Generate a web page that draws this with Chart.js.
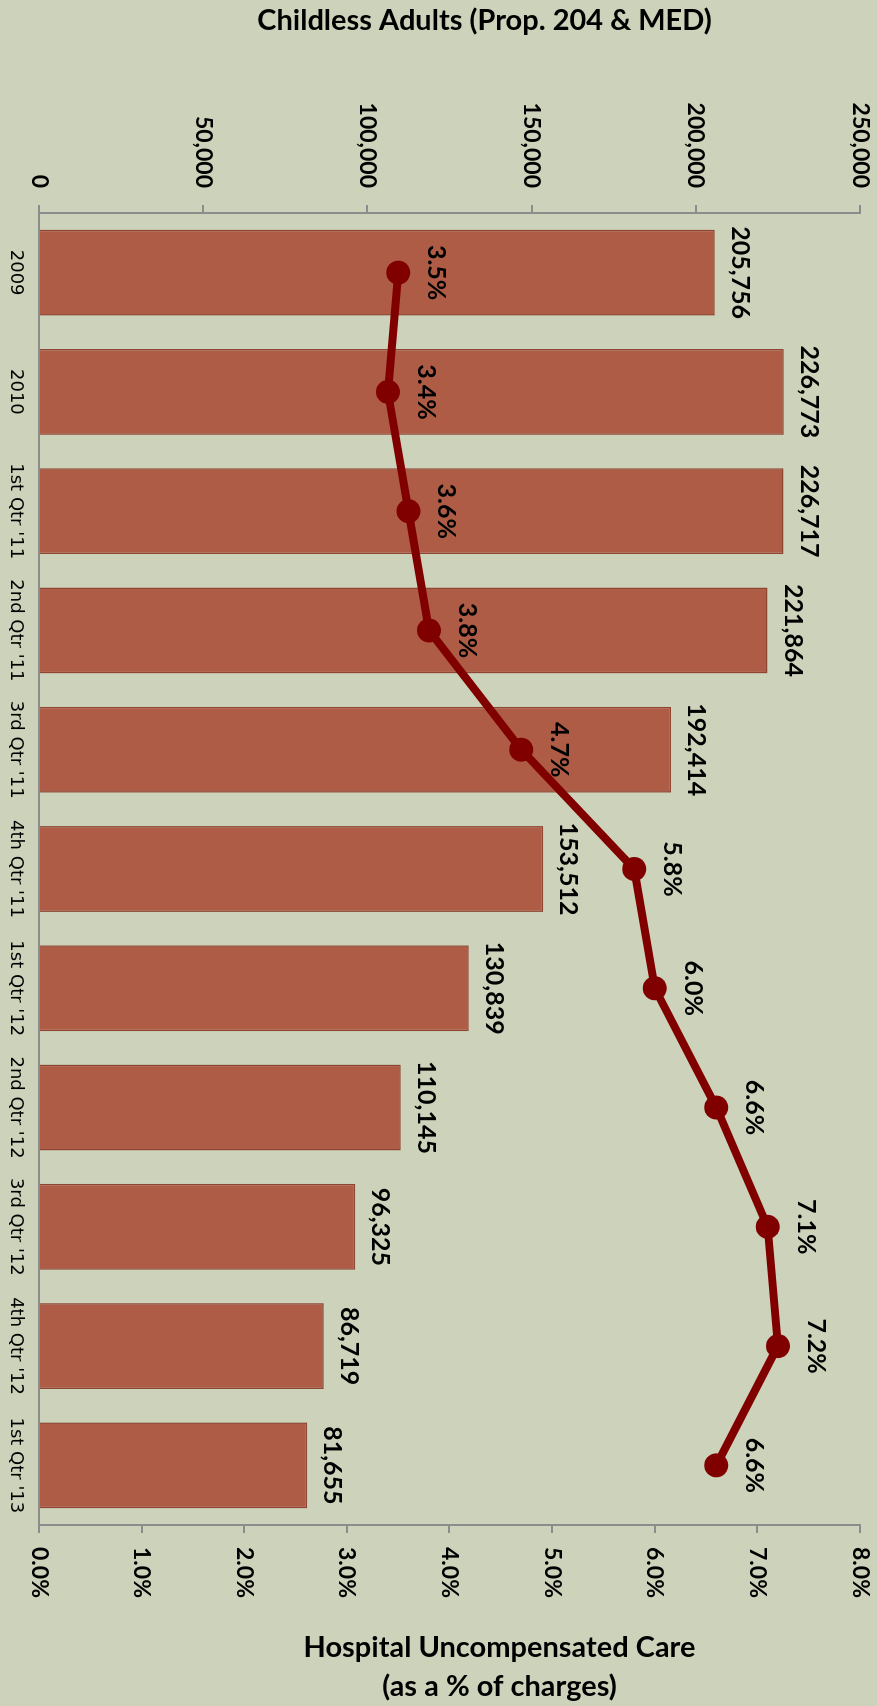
<!DOCTYPE html>
<html lang="en">
<head>
    <meta charset="UTF-8">
    <title>Childless Adults (Prop. 204 & MED)</title>
    <script src="https://cdn.jsdelivr.net/npm/chart.js"></script>
    <style>
        html, body {
            margin: 0;
            padding: 0;
            background: #CDD2BA;
        }

        /* the chart is drawn as a column chart and turned a quarter clockwise */
        .chart-frame {
            position: relative;
            width: 877px;
            height: 1706px;
            overflow: hidden;
            background: #CDD2BA;
        }

        .chart-frame canvas {
            position: absolute;
            left: 0;
            top: 0;
            transform-origin: 0 0;
            transform: translateX(877px) rotate(90deg);
        }
    </style>
</head>
<body>
    <div class="chart-frame">
        <canvas id="adultsChart" width="1706" height="877"></canvas>
    </div>

    <script>
        // Data
        const categories = ['2009', '2010', "1st Qtr '11", "2nd Qtr '11", "3rd Qtr '11", "4th Qtr '11",
            "1st Qtr '12", "2nd Qtr '12", "3rd Qtr '12", "4th Qtr '12", "1st Qtr '13"];
        const enrollment = [205756, 226773, 226717, 221864, 192414, 153512, 130839, 110145, 96325, 86719, 81655];
        const uncompCare = [3.5, 3.4, 3.6, 3.8, 4.7, 5.8, 6.0, 6.6, 7.1, 7.2, 6.6];
        const countTicks = [0, 50000, 100000, 150000, 200000, 250000];
        const pctTicks = [0, 1, 2, 3, 4, 5, 6, 7, 8];

        const axisTitle = 'Childless Adults (Prop. 204 & MED)';
        const pctTitle = ['Hospital Uncompensated Care', '(as a % of charges)'];

        const AXIS = '#8C8C8C';
        const BAR = '#AE5C46';
        const BAR_EDGE = '#8E4533';
        const LINE = '#800000';

        // Value labels + the two axis titles (drawn turned so they read level on the page)
        const labelsPlugin = {
            id: 'labels',
            afterDatasetsDraw(chart) {
                const ctx = chart.ctx;
                ctx.save();
                ctx.fillStyle = '#000';
                ctx.textAlign = 'center';
                ctx.textBaseline = 'alphabetic';
                ctx.font = 'bold 25px Lato';
                chart.getDatasetMeta(1).data.forEach((el, i) => {
                    ctx.fillText(enrollment[i].toLocaleString('en-US'), el.x, el.y - 17);
                });
                chart.getDatasetMeta(0).data.forEach((el, i) => {
                    ctx.fillText(uncompCare[i].toFixed(1) + '%', el.x, el.y - 30);
                });
                ctx.restore();
            },
            afterDraw(chart) {
                const ctx = chart.ctx;
                const area = chart.chartArea;
                const mid = (area.top + area.bottom) / 2;
                ctx.save();
                ctx.fillStyle = '#000';
                ctx.textAlign = 'center';
                ctx.textBaseline = 'middle';
                ctx.font = 'bold 29px Lato';

                ctx.save();
                ctx.translate(21, mid - 35);
                ctx.rotate(-Math.PI / 2);
                ctx.fillText(axisTitle, 0, 0);
                ctx.restore();

                ctx.save();
                ctx.translate(chart.scales.y1.right - 58, mid - 50);
                ctx.rotate(-Math.PI / 2);
                ctx.fillText(pctTitle[0], 0, 0);
                ctx.fillText(pctTitle[1], 0, 39);
                ctx.restore();

                ctx.restore();
            }
        };

        // fixed box sizes so the plot sits where the original one does
        function fitWidth(w) {
            return s => { s.width = w; s.paddingTop = 0; s.paddingBottom = 0; };
        }

        const ctx = document.getElementById('adultsChart').getContext('2d');
        new Chart(ctx, {
            data: {
                labels: categories,
                datasets: [{
                    type: 'line',
                    label: 'Uncompensated care',
                    data: uncompCare,
                    yAxisID: 'y1',
                    borderColor: LINE,
                    borderWidth: 8,
                    pointRadius: 12,
                    pointBackgroundColor: LINE,
                    pointBorderWidth: 0,
                    tension: 0,
                    order: 0
                }, {
                    type: 'bar',
                    label: 'Childless adults',
                    data: enrollment,
                    yAxisID: 'y',
                    backgroundColor: BAR,
                    borderColor: BAR_EDGE,
                    borderWidth: 1.5,
                    barPercentage: 0.72,
                    categoryPercentage: 1,
                    order: 1
                }]
            },
            options: {
                responsive: false,
                animation: false,
                layout: { padding: { top: 17, left: 0, right: 0, bottom: 0 } },
                plugins: {
                    legend: { display: false },
                    tooltip: { enabled: false }
                },
                scales: {
                    x: {
                        position: 'bottom',
                        offset: true,
                        grid: { display: false },
                        border: { display: true, color: AXIS, width: 2 },
                        ticks: {
                            color: '#000',
                            font: { family: 'DejaVu Sans', size: 18 },
                            padding: 5,
                            minRotation: 0,
                            maxRotation: 0,
                            autoSkip: false
                        },
                        afterFit(s) { s.height = 39; }
                    },
                    y: {
                        position: 'left',
                        min: countTicks[0],
                        max: countTicks[countTicks.length - 1],
                        afterBuildTicks(s) { s.ticks = countTicks.map(v => ({ value: v })); },
                        ticks: {
                            color: '#000',
                            font: { family: 'Lato', size: 23, weight: 'bold' },
                            padding: 17,
                            callback: v => v.toLocaleString('en-US')
                        },
                        grid: { drawOnChartArea: false, tickLength: 8, color: AXIS, lineWidth: 2 },
                        border: { color: AXIS, width: 2 },
                        afterFit: fitWidth(213)
                    },
                    y1: {
                        position: 'right',
                        min: pctTicks[0],
                        max: pctTicks[pctTicks.length - 1],
                        afterBuildTicks(s) { s.ticks = pctTicks.map(v => ({ value: v })); },
                        ticks: {
                            color: '#000',
                            font: { family: 'Lato', size: 23, weight: 'bold' },
                            padding: 14,
                            callback: v => v.toFixed(1) + '%'
                        },
                        grid: { drawOnChartArea: false, tickLength: 8, color: AXIS, lineWidth: 2 },
                        border: { color: AXIS, width: 2 },
                        afterFit: fitWidth(181)
                    }
                }
            },
            plugins: [labelsPlugin]
        });
    </script>
</body>
</html>
